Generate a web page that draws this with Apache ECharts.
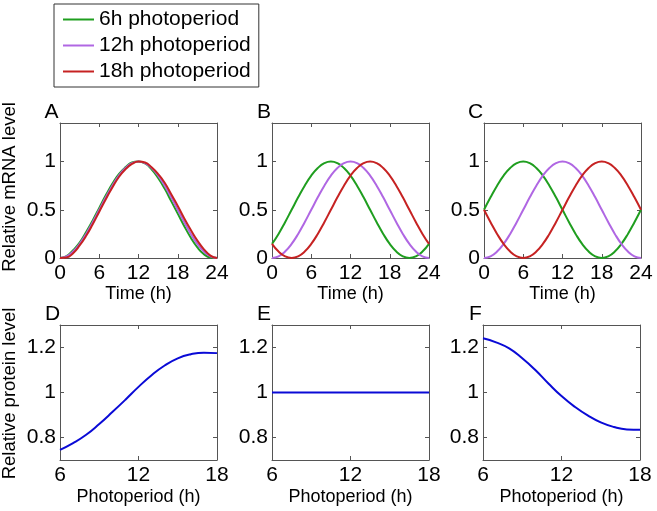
<!DOCTYPE html>
<html>
<head>
<meta charset="utf-8">
<script src="https://cdn.jsdelivr.net/npm/echarts@6/dist/echarts.min.js"></script>
<style>
html,body{margin:0;padding:0;background:#fff;}
#chart{width:657px;height:511px;}
</style>
</head>
<body>
<div id="chart"></div>
<script>
// ---- data ----
const hours = [0,1,2,3,4,5,6,7,8,9,10,11,12,13,14,15,16,17,18,19,20,21,22,23,24];
const photoperiods = [6,7,8,9,10,11,12,13,14,15,16,17,18];
const seriesNames = ['6h photoperiod','12h photoperiod','18h photoperiod'];
const timeTicks = [0,6,12,18,24];
const mrnaTicks = [0,0.5,1];
const photoTicks = [6,12,18];
const proteinTicks = [0.8,1,1.2];

// Panel A
const greenA  = [0,0.02,0.08,0.16,0.27,0.39,0.52,0.65,0.77,0.87,0.94,0.99,1.0,0.98,0.92,0.83,0.72,0.59,0.46,0.33,0.21,0.11,0.04,0.005,0];
const purpleA = [0,0.017,0.067,0.146,0.25,0.371,0.5,0.629,0.75,0.854,0.933,0.983,1,0.983,0.933,0.854,0.75,0.629,0.5,0.371,0.25,0.146,0.067,0.017,0];
const redA    = [0,0.005,0.05,0.13,0.23,0.35,0.48,0.61,0.73,0.84,0.92,0.975,1,0.99,0.94,0.87,0.78,0.66,0.54,0.41,0.29,0.18,0.09,0.025,0];
// Panel B
const greenB  = [0.146,0.25,0.371,0.5,0.629,0.75,0.854,0.933,0.983,1,0.983,0.933,0.854,0.75,0.629,0.5,0.371,0.25,0.146,0.067,0.017,0,0.017,0.067,0.146];
const purpleB = [0,0.017,0.067,0.146,0.25,0.371,0.5,0.629,0.75,0.854,0.933,0.983,1,0.983,0.933,0.854,0.75,0.629,0.5,0.371,0.25,0.146,0.067,0.017,0];
const redB    = [0.146,0.067,0.017,0,0.017,0.067,0.146,0.25,0.371,0.5,0.629,0.75,0.854,0.933,0.983,1,0.983,0.933,0.854,0.75,0.629,0.5,0.371,0.25,0.146];
// Panel C
const greenC  = [0.5,0.629,0.75,0.854,0.933,0.983,1,0.983,0.933,0.854,0.75,0.629,0.5,0.371,0.25,0.146,0.067,0.017,0,0.017,0.067,0.146,0.25,0.371,0.5];
const purpleC = [0,0.017,0.067,0.146,0.25,0.371,0.5,0.629,0.75,0.854,0.933,0.983,1,0.983,0.933,0.854,0.75,0.629,0.5,0.371,0.25,0.146,0.067,0.017,0];
const redC    = [0.5,0.371,0.25,0.146,0.067,0.017,0,0.017,0.067,0.146,0.25,0.371,0.5,0.629,0.75,0.854,0.933,0.983,1,0.983,0.933,0.854,0.75,0.629,0.5];
// Panels D, E, F
const proteinD = [0.745,0.775,0.812,0.86,0.913,0.968,1.025,1.077,1.12,1.152,1.17,1.177,1.175];
const proteinE = [1,1,1,1,1,1,1,1,1,1,1,1,1];
const proteinF = [1.241,1.223,1.196,1.152,1.1,1.04,0.984,0.937,0.898,0.867,0.847,0.836,0.834];

// ---- styling ----
const FONT = 'Liberation Sans, Arial, Helvetica, sans-serif';
const lineColors = ['#1f9e1f','#b067e3','#c62222'];
const blue = '#0a0ad6';
const axisColor = '#555555';

const gridsLayout = [
  {left:60,  top:123, width:157, height:135},
  {left:272, top:123, width:157, height:135},
  {left:484, top:123, width:157, height:135},
  {left:60,  top:325, width:157, height:135},
  {left:272, top:325, width:157, height:135},
  {left:483, top:325, width:157, height:135}
];

const grid = gridsLayout.map(g => Object.assign({containLabel:false}, g));
const xAxis = [], yAxis = [], series = [];

function addAxes(i, xMin, xMax, xTicks, yMin, yMax, yTicks, xName, nameGap) {
  const ls = {color: axisColor, width: 1};
  xAxis.push({
    gridIndex:i, type:'value', min:xMin, max:xMax, position:'bottom',
    axisLine:{show:true, onZero:false, lineStyle:ls},
    axisTick:{show:true, inside:true, length:4, customValues:xTicks, lineStyle:ls},
    axisLabel:{show:true, customValues:xTicks, margin:5, fontSize:21, color:'#000', fontFamily:FONT},
    splitLine:{show:false},
    name:xName, nameLocation:'middle', nameGap:nameGap,
    nameTextStyle:{fontSize:18, color:'#000', fontFamily:FONT}
  });
  xAxis.push({
    gridIndex:i, type:'value', min:xMin, max:xMax, position:'top',
    axisLine:{show:true, onZero:false, lineStyle:ls},
    axisTick:{show:true, inside:true, length:4, customValues:xTicks, lineStyle:ls},
    axisLabel:{show:false}, splitLine:{show:false}
  });
  yAxis.push({
    gridIndex:i, type:'value', min:yMin, max:yMax, position:'left',
    axisLine:{show:true, onZero:false, lineStyle:ls},
    axisTick:{show:true, inside:true, length:4, customValues:yTicks, lineStyle:ls},
    axisLabel:{show:true, customValues:yTicks, margin:4, fontSize:21, color:'#000', fontFamily:FONT},
    splitLine:{show:false}
  });
  yAxis.push({
    gridIndex:i, type:'value', min:yMin, max:yMax, position:'right',
    axisLine:{show:true, onZero:false, lineStyle:ls},
    axisTick:{show:true, inside:true, length:4, customValues:yTicks, lineStyle:ls},
    axisLabel:{show:false}, splitLine:{show:false}
  });
}

function pairs(xs, ys) { return xs.map((x, k) => [x, ys[k]]); }

const mrnaPanels = [[greenA,purpleA,redA],[greenB,purpleB,redB],[greenC,purpleC,redC]];
mrnaPanels.forEach((panel, i) => {
  addAxes(i, 0, 24, timeTicks, 0, 1.4, mrnaTicks, 'Time (h)', 26);
  panel.forEach((vals, s) => {
    series.push({
      type:'line', name:seriesNames[s], xAxisIndex:2*i, yAxisIndex:2*i,
      data:pairs(hours, vals), smooth:0.5, showSymbol:false, symbol:'none',
      color:lineColors[s], lineStyle:{width:2, color:lineColors[s]}, animation:false, z:2+s
    });
  });
});

const proteinPanels = [proteinD, proteinE, proteinF];
proteinPanels.forEach((vals, j) => {
  const i = 3 + j;
  addAxes(i, 6, 18, photoTicks, 0.7, 1.3, proteinTicks, 'Photoperiod (h)', 28);
  series.push({
    type:'line', name:'protein'+j, xAxisIndex:2*i, yAxisIndex:2*i,
    data:pairs(photoperiods, vals), smooth:0.5, showSymbol:false, symbol:'none',
    color:blue, lineStyle:{width:2, color:blue}, animation:false
  });
});

const letters = [
  ['A',51.5,112],['B',264,112],['C',475.5,112],
  ['D',52.5,314.5],['E',264,314.5],['F',475.5,314.5]
];
const graphic = letters.map(l => ({
  type:'text', x:l[1], y:l[2],
  style:{text:l[0], font:'21px ' + FONT, fill:'#000', textAlign:'center', textVerticalAlign:'middle'}
}));
graphic.push({
  type:'text', x:10, y:187, rotation:Math.PI/2,
  style:{text:'Relative mRNA level', font:'18.5px ' + FONT, fill:'#000', textAlign:'center', textVerticalAlign:'middle'}
});
graphic.push({
  type:'text', x:10, y:393.5, rotation:Math.PI/2,
  style:{text:'Relative protein level', font:'18.5px ' + FONT, fill:'#000', textAlign:'center', textVerticalAlign:'middle'}
});

const chart = echarts.init(document.getElementById('chart'), null, {renderer:'canvas'});
chart.setOption({
  animation:false,
  backgroundColor:'#fff',
  grid, xAxis, yAxis, series, graphic,
  legend:{
    show:true, orient:'vertical', left:54, top:4,
    data:seriesNames, icon:'rect', itemWidth:31, itemHeight:2, itemGap:5,
    padding:[5,8,5,9], borderColor:'#333', borderWidth:1, backgroundColor:'#fff',
    textStyle:{fontSize:21, lineHeight:21, color:'#000', fontFamily:FONT},
    selectedMode:false
  }
});
</script>
</body>
</html>
